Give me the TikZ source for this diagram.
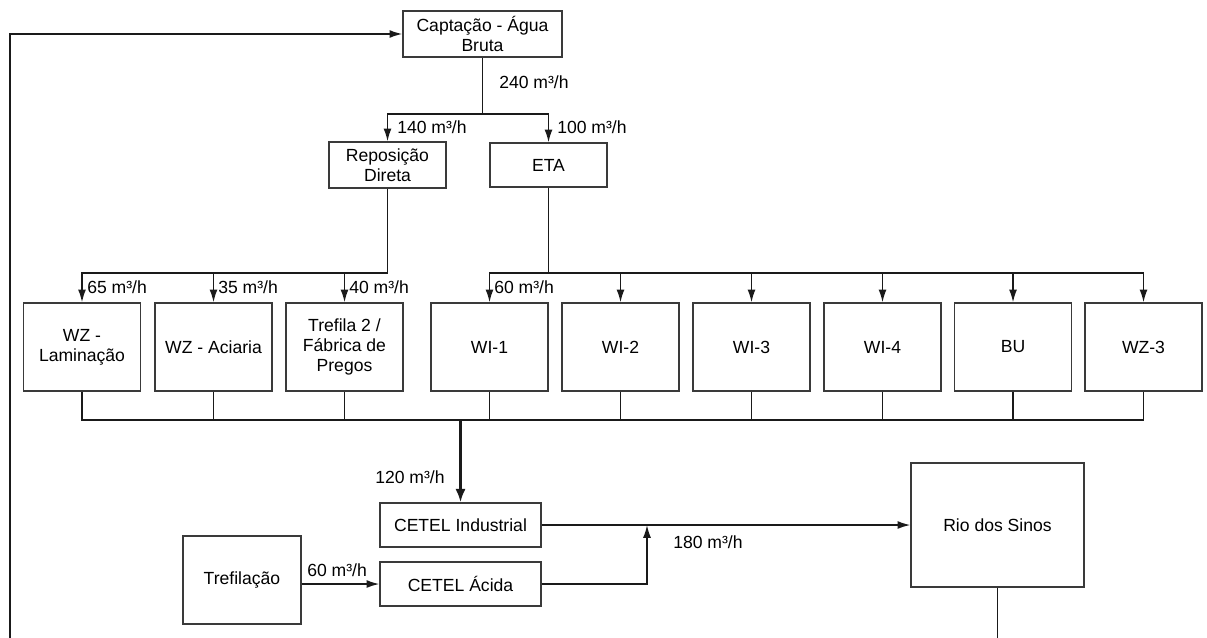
\documentclass[tikz,border=0pt]{standalone}
\usepackage{fontspec}
\setmainfont{Liberation Sans}
\usepackage{tikz}
\usepackage{xcolor}
\usetikzlibrary{arrows.meta,positioning,calc}
\definecolor{Ink}{HTML}{1A1A1A}
\definecolor{Frame}{HTML}{3A3A3A}

\tikzset{
  box/.style={draw=Frame,line width=0.9pt,align=center,inner sep=2pt,
    font=\fontsize{12.5}{14.2}\selectfont},
  unitbox/.style={box,minimum width=2.925cm,minimum height=2.2cm},
  pipe/.style={draw=Ink,line width=1.1pt},
  flow/.style={pipe,-{Latex[length=3.2mm,width=2mm]}},
  rate/.style={anchor=west,inner sep=0pt,font=\fontsize{12.5}{14}\selectfont}
}

\begin{document}
\begin{tikzpicture}[x=0.025cm,y=-0.025cm]
  \useasboundingbox (0,0) rectangle (1207,637);
  \clip (0,0) rectangle (1207,637);
  % supply
  \node[box,minimum width=3.975cm,minimum height=1.15cm] (capt) at (482.5,34) {Captação - Água\\Bruta};
  \node[box,minimum width=2.925cm,minimum height=1.15cm] (repo) at (387.5,165) {Reposição\\Direta};
  \node[box,minimum width=2.925cm,minimum height=1.1cm] (eta) at (548.5,165) {ETA};
  % consumers
  \node[unitbox] (lam) at (82,347) {WZ -\\Laminação};
  \node[unitbox] (aci) at (213.5,347) {WZ - Aciaria};
  \node[unitbox] (pregos) at (344.5,347) {Trefila 2 /\\Fábrica de\\Pregos};
  \node[unitbox] (wi1) at (489.5,347) {WI-1};
  \node[unitbox] (wi2) at (620.5,347) {WI-2};
  \node[unitbox] (wi3) at (751.5,347) {WI-3};
  \node[unitbox] (wi4) at (882.5,347) {WI-4};
  \node[unitbox] (bu) at (1013,347) {BU};
  \node[unitbox] (wz3) at (1143.5,347) {WZ-3};
  % treatment
  \node[box,minimum width=4.025cm,minimum height=1.1cm] (cind) at (460.5,525) {CETEL Industrial};
  \node[box,minimum width=4.025cm,minimum height=1.1cm] (cacida) at (460.5,584) {CETEL Ácida};
  \node[box,minimum width=2.95cm,minimum height=2.2cm] (tref) at (242,580) {Trefilação};
  \node[box,minimum width=4.325cm,minimum height=3.1cm] (rio) at (997.5,525) {Rio dos Sinos};

  \coordinate (s1) at (482.5,114);
  \coordinate (s2) at (387.5,273);
  \coordinate (s3) at (548.5,273);
  \coordinate (s4) at (460.5,420);
  \coordinate (join) at (647,525);
  \coordinate (back) at (10,660);

  \draw[pipe] (capt) -- (s1);
  \draw[flow] (s1) -| (repo.north);
  \draw[flow] (s1) -| (eta.north);
  \draw[pipe] (repo) -- (s2);
  \foreach \n in {lam,aci,pregos}
    \draw[flow] (s2) -| (\n.north);
  \draw[pipe] (eta) -- (s3);
  \foreach \n in {wi1,wi2,wi3,wi4,bu,wz3}
    \draw[flow] (s3) -| (\n.north);
  \foreach \n in {lam,aci,pregos,wi1,wi2,wi3,wi4,bu,wz3}
    \draw[pipe] (\n.south) |- (s4);
  \draw[pipe,line width=2pt,-{Latex[length=3.4mm,width=2.6mm]}] (s4) -- (cind.north);
  \draw[flow] (tref.east |- cacida.west) -- (cacida.west);
  \draw[flow] (cacida.east) -| (join);
  \draw[flow] (cind.east) -- (rio.west);
  \draw[flow] (rio.south) |- (back) |- (capt.west);

  \node[rate] at (499,82) {240 m³/h};
  \node[rate] at (397,127) {140 m³/h};
  \node[rate] at (557,127) {100 m³/h};
  \node[rate] at (87,287) {65 m³/h};
  \node[rate] at (218,287) {35 m³/h};
  \node[rate] at (349,287) {40 m³/h};
  \node[rate] at (494,287) {60 m³/h};
  \node[rate] at (375,477) {120 m³/h};
  \node[rate] at (307,570) {60 m³/h};
  \node[rate] at (673,542) {180 m³/h};
\end{tikzpicture}
\end{document}
